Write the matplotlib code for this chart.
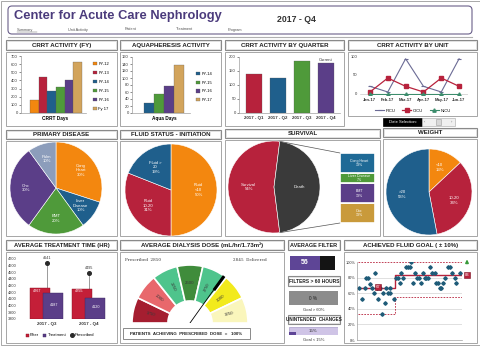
import numpy as np
import matplotlib
matplotlib.use("Agg")
import matplotlib.pyplot as plt
from matplotlib.patches import Rectangle, FancyBboxPatch, ConnectionPatch

plt.rcParams['font.family'] = ['Liberation Sans', 'DejaVu Sans']

# ---- data ----
fy_labels = ['FY-12', 'FY-13', 'FY-14', 'FY-15', 'FY-16', 'Fy 17']
fy_days = [160, 440, 265, 325, 405, 625]
aqua_labels = ['FY-14', 'FY-15', 'FY-16', 'FY-17']
aqua_days = [30, 55, 78, 138]
quarters = ['2017 - Q1', '2017 - Q2', '2017 - Q3', '2017 - Q4']
quarter_activity = [138, 125, 185, 177]
months = ['Jan-17', 'Feb-17', 'Mar-17', 'Apr-17', 'May-17', 'Jun-17']
picu = [20, 5, 93, 20, 5, 93]
cicu = [5, 42, 20, 5, 42, 20]
nicu = [0, 0, 0, 0, 0, 0]
disease_labels = ['Cong\nHeart', 'Liver\nDisease', 'BMT', 'Onc', 'Pulm']
disease_pct = [30, 10, 20, 30, 10]
fluid_labels = ['Fluid\n<10', 'Fluid\n10-20', 'Fluid >\n20']
fluid_pct = [50, 31, 19]
survival_labels = ['Survival', 'Death']
survival_pct = [54, 46]
death_labels = ['Cong Heart', 'Liver Disease', 'BMT', 'Onc']
death_pct = [13, 7, 13, 13]
weight_labels = ['<10', '10-20', '>20']
weight_pct = [13, 34, 53]
tt_quarters = ['2017 - Q3', '2017 - Q4']
tt_filter = [4267, 4255]
tt_treatment = [4187, 4120]
tt_prescribed = [4641, 4495]
dose_bands = [1750, 2000, 2250, 2500, 2750, 3000, 3250]
dose_prescribed = 2850
dose_delivered = 2845
avg_filter = 56
filter_scale = 84
filters_60h = 0
unintended = 15
goal_x = [0.5, 2.2, 3.3, 4.2, 5.0, 6.2, 7.2, 7.8, 8.7, 9.5, 10.0, 11.2, 12.0, 12.5, 13.3,
          14.2, 15.0, 15.8, 16.2, 17.8, 19.2, 20.0, 20.8, 21.7, 22.5, 23.8, 24.8, 25.8,
          26.7, 27.5, 28.5, 29.5, 30.5, 31.7, 32.5, 33.3, 34.2, 35.0, 36.2, 37.2, 38.3,
          39.2, 40.0, 40.8, 41.7, 42.5, 43.3, 45.0, 46.2, 47.2, 48.3, 49.2, 50.8]
goal_y = [67, 53, 67, 80, 80, 72, 67, 60, 86, 67, 53, 67, 33, 60, 47, 67, 60, 67, 60, 53,
          80, 80, 73, 86, 80, 93, 93, 93, 100, 73, 86, 80, 80, 73, 86, 80, 80, 80, 93, 86,
          86, 73, 73, 67, 67, 73, 80, 93, 93, 86, 80, 73, 86]
step_x = [0, 18.5, 18.5, 52]
goal_avg = [67, 67, 83, 83]
goal_low = [33, 33, 55, 55]
goal_high = [100, 100, 100, 100]

ORANGE = '#F3870F'
CRIMSON = '#B7223C'
BLUE = '#1F5F8C'
GREEN = '#4F9A3A'
PURPLE = '#5B3E88'
TAN = '#D2A45C'
PULM = '#8C9DBB'
TITLE_C = '#4B3B7C'

W, H = 481, 346
fig = plt.figure(figsize=(W / 100, H / 100), dpi=100)
bg = fig.add_axes([0, 0, 1, 1])
bg.set_xlim(0, W)
bg.set_ylim(H, 0)
bg.axis('off')


def px(x0, y0, x1, y1):
    return [x0 / W, 1 - y1 / H, (x1 - x0) / W, (y1 - y0) / H]


def title_box(x0, y0, x1, y1, text, fs=4.4):
    bg.add_patch(Rectangle((x0, y0), x1 - x0, y1 - y0, fc='white', ec='#8a8a8a', lw=0.8))
    bg.add_patch(Rectangle((x0 + 1.2, y0 + 1.2), x1 - x0 - 2.4, y1 - y0 - 2.4, fc='none', ec='#d0d0d0', lw=0.4))
    bg.text((x0 + x1) / 2, (y0 + y1) / 2 + 0.3, text, ha='center', va='center', fontsize=fs,
            fontweight='bold', color='#222222')


def chart_box(x0, y0, x1, y1):
    bg.add_patch(Rectangle((x0, y0), x1 - x0, y1 - y0, fc='white', ec='#a6a6a6', lw=0.7))


def style_axes(ax, ls=3):
    ax.set_facecolor('none')
    for s in ['top', 'right']:
        ax.spines[s].set_visible(False)
    for s in ['left', 'bottom']:
        ax.spines[s].set_color('#a0a0a0')
        ax.spines[s].set_linewidth(0.5)
    ax.tick_params(labelsize=ls, length=1.2, width=0.4, pad=1, colors='#333333')


def side_legend(ax, handles, labels, x, y, spacing_px, ncol=1, fs=3):
    fs_px = fs * 100 / 72
    ax.legend(handles, labels, loc='upper left', bbox_to_anchor=(x / W, 1 - y / H),
              bbox_transform=fig.transFigure, frameon=False, fontsize=fs, ncol=ncol,
              handlelength=0.9, handleheight=0.9, handletextpad=0.4, columnspacing=1.0,
              labelspacing=(spacing_px - fs_px) / fs_px, borderpad=0, borderaxespad=0)


# ---- frame and header ----
bg.add_patch(Rectangle((1, 1), W - 2, H - 2, fc='none', ec='#9a9a9a', lw=0.6))
bg.add_patch(FancyBboxPatch((8, 6), 464, 28, boxstyle='round,pad=0,rounding_size=4',
                            fc='white', ec='#6a5f8a', lw=0.8))
bg.plot([8, 472], [37, 37], color='#b0b0b0', lw=0.8)
bg.text(14, 16, 'Center for Acute Care Nephrology', fontsize=9.3, fontweight='bold',
        color=TITLE_C, va='center')
bg.text(277, 20, '2017 - Q4', fontsize=6.3, fontweight='bold', color='#333333', va='center')
tabs = ['Summary', 'Unit Activity', 'Patient', 'Treatment', 'Program']
tab_x = [17, 68, 125, 176, 228]
for t, x in zip(tabs, tab_x):
    bg.text(x, 29.5, t, fontsize=2.8, color='#555555', va='center')
bg.plot([17, 37], [31.5, 31.5], color='#555555', lw=0.3)

# ---- row 1: CRRT activity (FY) ----
fy_colors = [ORANGE, CRIMSON, BLUE, GREEN, PURPLE, TAN]
title_box(6, 40, 117, 50, 'CRRT ACTIVITY (FY)')
chart_box(6, 52, 117, 126)
ax1 = fig.add_axes(px(21, 56, 86, 113))
style_axes(ax1)
b1 = ax1.bar(np.arange(len(fy_days)), fy_days, width=1, color=fy_colors, edgecolor='#555555', linewidth=0.2)
ax1.set_xlim(-1.53, 5.96)
ax1.set_ylim(0, 700)
ax1.set_yticks(range(0, 701, 100))
ax1.set_xticks([])
side_legend(ax1, list(b1), fy_labels, 93, 62, 9)
bg.text(55, 118.5, 'CRRT Days', fontsize=3.4, fontweight='bold', ha='center', va='center')

# ---- row 1: aquapheresis ----
title_box(120, 40, 221, 50, 'AQUAPHERESIS ACTIVITY')
chart_box(120, 52, 221, 126)
ax2 = fig.add_axes(px(132, 57, 190, 113))
style_axes(ax2)
b2 = ax2.bar(np.arange(len(aqua_days)), aqua_days, width=1, color=[BLUE, GREEN, PURPLE, TAN],
             edgecolor='#555555', linewidth=0.2)
ax2.set_xlim(-1.7, 4.1)
ax2.set_ylim(0, 160)
ax2.set_yticks(range(0, 161, 20))
ax2.set_xticks([])
side_legend(ax2, list(b2), aqua_labels, 196, 72, 8.6)
bg.text(164, 118.5, 'Aqua Days', fontsize=3.4, fontweight='bold', ha='center', va='center')

# ---- row 1: by quarter ----
title_box(225, 40, 344, 50, 'CRRT ACTIVITY BY QUARTER')
chart_box(225, 52, 344, 126)
ax3 = fig.add_axes(px(239, 57, 340, 113))
style_axes(ax3)
ax3.bar(np.arange(len(quarter_activity)), quarter_activity, width=0.67,
        color=[CRIMSON, BLUE, GREEN, PURPLE], edgecolor='#555555', linewidth=0.2)
ax3.set_xlim(-0.62, 3.58)
ax3.set_ylim(0, 200)
ax3.set_yticks(range(0, 201, 50))
ax3.set_xticks(range(len(quarters)))
ax3.set_xticklabels(quarters, fontsize=3.2, fontweight='bold')
ax3.tick_params(axis='x', length=0, pad=2.5)
ax3.text(3, quarter_activity[3] + 4, 'Current', fontsize=3, ha='center', va='bottom', color='#333333')

# ---- row 1: by unit ----
title_box(348, 40, 477, 50, 'CRRT ACTIVITY BY UNIT')
chart_box(348, 52, 477, 116)
ax4 = fig.add_axes(px(360, 55, 468, 95))
style_axes(ax4)
ax4.spines['bottom'].set_visible(False)
ax4.spines['left'].set_visible(False)
xm = np.arange(len(months))
l1, = ax4.plot(xm, picu, color='#6b6b95', lw=0.8, marker='_', ms=3, mew=0.8)
l2, = ax4.plot(xm, cicu, color=CRIMSON, lw=0.9, marker='s', ms=2.4)
l3, = ax4.plot(xm, nicu, color='#3c8c6c', lw=0.8, marker='^', ms=2.4)
ax4.axhline(0, color='#bdbdbd', lw=0.4, zorder=0)
ax4.set_xlim(-0.56, 5.5)
ax4.set_ylim(-3, 103)
ax4.set_yticks([0, 50, 100])
ax4.set_xticks(xm)
ax4.set_xticklabels(months, fontsize=3, fontweight='bold')
ax4.tick_params(length=0, pad=2)
ax4.legend([l1, l2, l3], ['PICU', 'CICU', 'NICU'], loc='center', bbox_to_anchor=(413 / W, 1 - 110.5 / H),
           bbox_transform=fig.transFigure, frameon=False, fontsize=3, ncol=3,
           handlelength=2.2, handletextpad=0.4, columnspacing=1.5, borderpad=0)
bg.add_patch(Rectangle((383, 118), 39, 8, fc='black', ec='black', lw=0.5))
bg.text(402.5, 122.2, 'Date Selection:', fontsize=3, color='white', ha='center', va='center')
bg.add_patch(Rectangle((422, 118), 33, 8, fc='#f0f0f0', ec='#b5b5b5', lw=0.5))
bg.add_patch(Rectangle((436, 119), 5, 6, fc='#d8d8d8', ec='#a0a0a0', lw=0.4))
bg.text(425, 122, '\u2039', fontsize=3, ha='center', va='center', color='#666666')
bg.text(452, 122, '\u203a', fontsize=3, ha='center', va='center', color='#666666')

# ---- row 2: pies ----
pie_text = dict(color='white', fontsize=3.1, ha='center', va='center')
wedge_kw = dict(edgecolor='white', linewidth=0.4)


def pie_axes(cx, cy, r):
    ax = fig.add_axes(px(cx - r, cy - r, cx + r, cy + r))
    return ax


title_box(6, 130, 117, 139, 'PRIMARY DISEASE')
chart_box(6, 141, 117, 236)
ax5 = pie_axes(56, 188, 46)
ax5.pie(disease_pct, labels=[f'{n}\n{p}%' for n, p in zip(disease_labels, disease_pct)],
        colors=[ORANGE, BLUE, GREEN, PURPLE, PULM], startangle=90, counterclock=False,
        labeldistance=0.66, textprops=pie_text, wedgeprops=wedge_kw)
ax5.set_xlim(-1, 1)
ax5.set_ylim(-1, 1)

title_box(120, 130, 221, 139, 'FLUID STATUS - INITIATION')
chart_box(120, 141, 221, 236)
ax6 = pie_axes(171, 190, 46)
ax6.pie(fluid_pct, labels=[f'{n}\n{p}%' for n, p in zip(fluid_labels, fluid_pct)],
        colors=[ORANGE, CRIMSON, BLUE], startangle=90, counterclock=False,
        labeldistance=0.6, textprops=pie_text, wedgeprops=wedge_kw)
ax6.set_xlim(-1, 1)
ax6.set_ylim(-1, 1)

title_box(225, 129, 380, 138, 'SURVIVAL')
chart_box(225, 140, 380, 236)
ax7 = pie_axes(274, 187, 46)
half = survival_pct[1] / 100 * 180
ax7.pie(survival_pct, labels=[f'{survival_labels[0]}\n{survival_pct[0]}%', survival_labels[1]],
        colors=[CRIMSON, '#3a3a3a'], startangle=half, counterclock=True,
        labeldistance=0.55, textprops=pie_text, wedgeprops=wedge_kw)
ax7.set_xlim(-1, 1)
ax7.set_ylim(-1, 1)
ax7b = fig.add_axes(px(340, 153, 375, 223))
ax7b.axis('off')
bottoms = np.concatenate([[0], np.cumsum(death_pct[::-1])[:-1]])
bar_cols = ['#1F6A96', GREEN, PURPLE, '#C99A3B'][::-1]
for v, b, c, n in zip(death_pct[::-1], bottoms, bar_cols, death_labels[::-1]):
    ax7b.bar(0, v, bottom=b, width=1, color=c, edgecolor='white', linewidth=1.2)
    ax7b.text(0.05, b + v / 2, f'{n}\n{v}%', color='white', fontsize=2.6, ha='center', va='center')
ax7b.set_xlim(-0.5, 0.5)
ax7b.set_ylim(0, sum(death_pct))
ang = np.deg2rad(half)
for sgn, yb in [(1, sum(death_pct)), (-1, 0)]:
    con = ConnectionPatch(xyA=(np.cos(ang), sgn * np.sin(ang)), coordsA=ax7.transData,
                          xyB=(-0.5, yb), coordsB=ax7b.transData, color='#555555', lw=0.5)
    fig.add_artist(con)

title_box(383, 128, 477, 137, 'WEIGHT')
chart_box(383, 139, 477, 236)
ax8 = pie_axes(429, 192, 43)
ax8.pie(weight_pct, labels=[f'{n}\n{p}%' for n, p in zip(weight_labels, weight_pct)],
        colors=[ORANGE, CRIMSON, BLUE], startangle=90, counterclock=False,
        labeldistance=0.62, textprops=pie_text, wedgeprops=wedge_kw)
ax8.set_xlim(-1, 1)
ax8.set_ylim(-1, 1)

# ---- row 3: average treatment time ----
title_box(6, 240, 117, 250, 'AVERAGE TREATMENT TIME (HR)', fs=4.2)
chart_box(6, 252, 117, 343)
ax9 = fig.add_axes(px(20, 255, 112, 319))
style_axes(ax9, ls=2.8)
ax9.spines['bottom'].set_visible(False)
ax9.spines['left'].set_visible(False)
xq = np.arange(len(tt_quarters))
ax9.vlines(xq, 3800, tt_prescribed, color='#8a8a8a', lw=0.6, zorder=1)
bf = ax9.bar(xq - 0.155, [v - 3800 for v in tt_filter], bottom=3800, width=0.48, color='#C41F38',
             edgecolor='#8a1020', linewidth=0.3, zorder=2)
bt = ax9.bar(xq + 0.155, [v - 3800 for v in tt_treatment], bottom=3800, width=0.48, color=PURPLE,
             edgecolor='#3a2660', linewidth=0.3, zorder=3)
pp, = ax9.plot(xq, tt_prescribed, 'o', color='#2a2a2a', ms=2.6, zorder=4)
for i in xq:
    ax9.text(i - 0.22, tt_filter[i] - 40, str(tt_filter[i]), color='white', fontsize=2.7, ha='center', va='center', zorder=5)
    ax9.text(i + 0.17, (3800 + tt_treatment[i]) / 2 + 20, str(tt_treatment[i]), color='white', fontsize=2.7,
             ha='center', va='center', zorder=5)
    ax9.text(i, tt_prescribed[i] + 40, str(tt_prescribed[i]), color='#333333', fontsize=2.7, ha='center', va='bottom')
ax9.set_xlim(-0.64, 1.55)
ax9.set_ylim(3800, 4760)
ax9.set_yticks(range(3800, 4701, 100))
ax9.set_xticks(xq)
ax9.set_xticklabels(tt_quarters, fontsize=3.2, fontweight='bold')
ax9.tick_params(length=0, pad=2.5)
ax9.legend([bf, bt, pp], ['Filter', 'Treatment', 'Prescribed'], loc='center',
           bbox_to_anchor=(60 / W, 1 - 335.5 / H), bbox_transform=fig.transFigure, frameon=False,
           fontsize=3, ncol=3, handlelength=0.7, handleheight=0.7, handletextpad=0.3,
           columnspacing=1.0, borderpad=0)

# ---- row 3: dialysis dose gauge ----
title_box(120, 240, 284, 250, 'AVERAGE DIALYSIS DOSE (mL/hr/1.73m\u00b2)')
chart_box(120, 252, 284, 343)
band_colors = ['#A51E30', '#E8686C', '#4EC48C', '#3F8C3B', '#4EC48C', '#F2EA1C', '#FAF6BC']
ax10 = fig.add_axes(px(132, 265, 248, 323))
wedges, _ = ax10.pie([1] * len(dose_bands) + [len(dose_bands)], colors=band_colors + ['white'],
                     startangle=180, counterclock=False, radius=1,
                     wedgeprops=dict(width=0.62, edgecolor='white', linewidth=1.2))
wedges[-1].set_visible(False)
ax10.set_xlim(-1, 1)
ax10.set_ylim(0, 1)
nb = len(dose_bands)
for i, v in enumerate(dose_bands):
    a = 180 - (i + 0.5) * 180 / nb
    rot = a - 180 if a > 95 else (a if a < 85 else 0)
    ax10.text(0.69 * np.cos(np.deg2rad(a)), 0.69 * np.sin(np.deg2rad(a)), str(v), rotation=rot,
              rotation_mode='anchor', ha='center', va='center', fontsize=3.2, color='#3a3a3a')
step = dose_bands[1] - dose_bands[0]
lo, hi = dose_bands[0] - step / 2, dose_bands[-1] + step / 2


def dose_angle(v):
    return np.deg2rad(180 - (v - lo) / (hi - lo) * 180)


ad = dose_angle(dose_delivered)
ap = dose_angle(dose_prescribed)
ax10.plot([0, 0.95 * np.cos(ad)], [0, 0.95 * np.sin(ad)], color='black', lw=0.6)
ax10.plot([0.7 * np.cos(ap), 1.0 * np.cos(ap)], [0.7 * np.sin(ap), 1.0 * np.sin(ap)], color='black', lw=2.2,
          solid_capstyle='butt')
bg.text(125, 260, f'Prescribed  {dose_prescribed}', fontsize=3, color='#333333', va='center', family='serif')
bg.text(233, 260, f'{dose_delivered}  Delivered', fontsize=3, color='#333333', va='center', family='serif')
bg.add_patch(Rectangle((123, 328), 127, 11, fc='white', ec='#8a8a8a', lw=0.7))
bg.text(186.5, 333.7, 'PATIENTS  ACHIEVING  PRESCRIBED  DOSE  =   100%', fontsize=3.2, fontweight='bold',
        ha='center', va='center', color='#222222')

# ---- row 3: filter stats ----
title_box(288, 240, 340, 250, 'AVERAGE FILTER', fs=4.0)
ax11a = fig.add_axes(px(290, 256, 335, 270))
ax11a.axis('off')
ax11a.barh(0, filter_scale, height=1, color='#141414')
ax11a.barh(0, avg_filter, height=1, color='#5E4596')
ax11a.text(avg_filter / 2, 0, str(avg_filter), color='white', fontsize=5, fontweight='bold', ha='center', va='center')
ax11a.set_xlim(0, filter_scale)
ax11a.set_ylim(-0.5, 0.5)

title_box(288, 276, 340, 286, 'FILTERS > 60 HOURS', fs=3.5)
ax11b = fig.add_axes(px(289, 291, 338, 305))
ax11b.axis('off')
ax11b.barh(0, 100, height=1, color='#8c8c8c')
ax11b.barh(0, filters_60h, height=1, color='#5E4596')
ax11b.text(50, 0, f'{filters_60h} %', color='#222222', fontsize=3.4, ha='center', va='center')
ax11b.set_xlim(0, 100)
ax11b.set_ylim(-0.5, 0.5)
bg.text(313.5, 310, 'Goal > 60%', fontsize=3, ha='center', va='center', color='#333333')

title_box(288, 315, 340, 324, 'UNINTENDED  CHANGES', fs=3.3)
ax11c = fig.add_axes(px(289, 327, 338, 334.5))
ax11c.axis('off')
ax11c.barh(0, 100, height=1, color='#cfc4e6', edgecolor='#9a8cc0', linewidth=0.4)
ax11c.barh(-0.35, unintended, height=0.3, color='#5E4596')
ax11c.text(50, 0, f'{unintended}%', color='#333333', fontsize=3.2, ha='center', va='center')
ax11c.set_xlim(0, 100)
ax11c.set_ylim(-0.5, 0.5)
bg.text(313.5, 340, 'Goal < 15%', fontsize=3, ha='center', va='center', color='#333333')

# ---- row 3: achieved fluid goal ----
title_box(344, 240, 477, 250, 'ACHIEVED FLUID GOAL ( \u00b1 10%)')
chart_box(344, 252, 477, 343)
ax12 = fig.add_axes(px(357, 262, 462, 340))
style_axes(ax12, ls=2.8)
ax12.set_ylim(0, 100)
ax12.set_xlim(-0.5, 52)
ax12.set_yticks(range(0, 101, 20))
ax12.set_yticklabels([f'{v}%' for v in range(0, 101, 20)])
ax12.set_xticks([])
ax12.tick_params(length=0)
for v in range(20, 100, 20):
    ax12.axhline(v, color='#c8c8c8', lw=0.4, zorder=0)
ax12.plot(step_x, goal_high, color=CRIMSON, lw=0.6, ls=(0, (2, 1.5)))
ax12.plot(step_x, goal_low, color=CRIMSON, lw=0.6, ls=(0, (2, 1.5)))
ax12.plot(step_x, goal_avg, color=CRIMSON, lw=1.0)
ax12.plot(goal_x, goal_y, 'D', color='#1E5B78', ms=1.8, ls='none')
box_kw = dict(boxstyle='square,pad=0.25', fc=CRIMSON, ec='#7a1020', lw=0.4)
ax12.text(10, goal_avg[0] + 1, str(goal_avg[0]), color='white', fontsize=3, ha='center', va='center', bbox=box_kw)
ax12.text(54.5, goal_avg[-1], str(goal_avg[-1]), color='white', fontsize=3, ha='center', va='center',
          bbox=box_kw, clip_on=False)
ax12.annotate('', xy=(54.5, 107), xytext=(54.5, 95), annotation_clip=False,
              arrowprops=dict(arrowstyle='-|>', color='#3a9a3a', lw=1.2, mutation_scale=4))

fig.savefig('out.png', dpi=100)
